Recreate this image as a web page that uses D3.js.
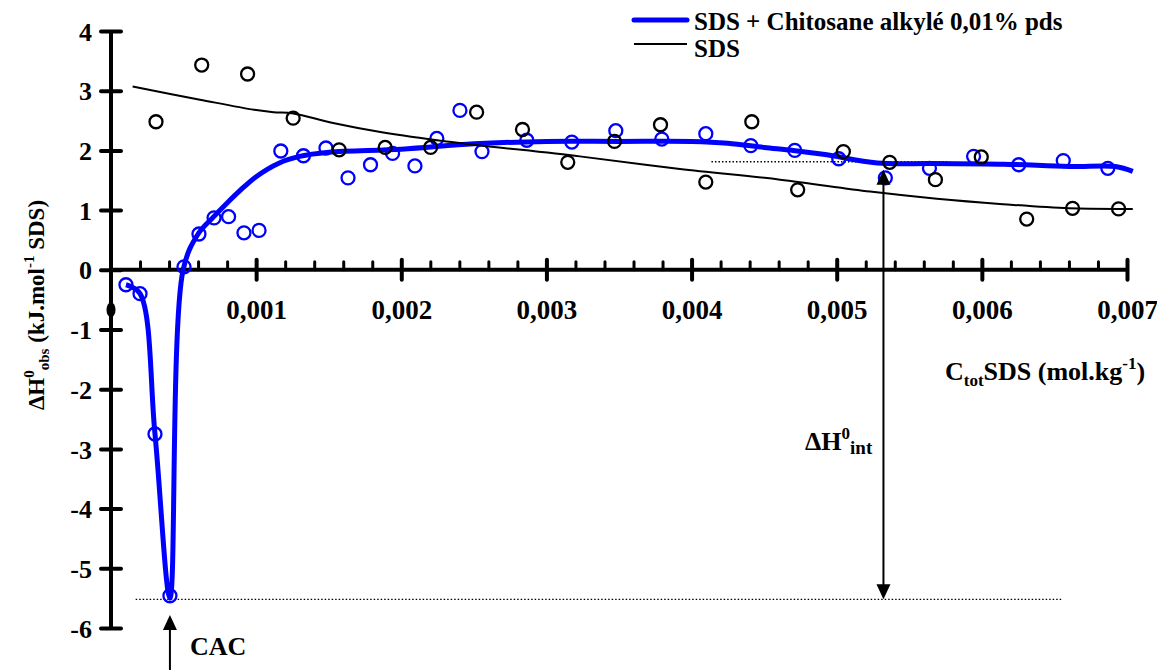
<!DOCTYPE html>
<html><head><meta charset="utf-8">
<script src="https://cdn.jsdelivr.net/npm/d3@7"></script>
<style>
html,body{margin:0;padding:0;background:#fff;}
svg text{font-family:"Liberation Serif","DejaVu Serif","Noto Serif",serif;font-weight:bold;fill:#000;}
</style></head>
<body><svg id="c" width="1157" height="670"></svg>
<script>
// ---- data ----
const blueX = [0.000103,0.000200,0.000303,0.000406,0.000503,0.000606,0.000710,0.000810,0.000916,0.001020,0.001170,0.001326,0.001481,0.001633,0.001788,0.001940,0.002094,0.002245,0.002404,0.002556,0.002865,0.003175,0.003478,0.003795,0.004098,0.004408,0.004711,0.005014,0.005335,0.005639,0.005943,0.006254,0.006561,0.006868];
const blueY = [-0.25,-0.40,-2.75,-5.46,0.05,0.60,0.87,0.89,0.62,0.66,1.99,1.91,2.04,1.54,1.76,1.95,1.74,2.20,2.67,1.98,2.17,2.14,2.33,2.19,2.28,2.08,2.00,1.86,1.54,1.70,1.90,1.76,1.83,1.70];
const blackX = [0.000310,0.000625,0.000941,0.001255,0.001572,0.001889,0.002202,0.002519,0.002835,0.003147,0.003469,0.003786,0.004098,0.004415,0.004731,0.005046,0.005365,0.005680,0.005996,0.006309,0.006625,0.006942];
const blackY = [2.48,3.43,3.28,2.54,2.01,2.05,2.05,2.64,2.35,1.80,2.15,2.43,1.47,2.48,1.34,1.98,1.80,1.51,1.89,0.85,1.03,1.02];
// fitted curves
const blueFitX = [0.000103,0.000200,0.000303,0.000406,0.000497,0.000600,0.000700,0.000800,0.000890,0.001000,0.001160,0.001300,0.001500,0.002000,0.002500,0.003000,0.003500,0.004000,0.004250,0.004500,0.004700,0.004920,0.005280,0.005650,0.006150,0.006600,0.006920,0.007040];
const blueFitY = [-0.25,-0.40,-2.75,-5.50,0.00,0.60,0.87,1.12,1.33,1.56,1.79,1.90,1.97,2.02,2.11,2.15,2.15,2.15,2.12,2.05,2.00,1.93,1.79,1.78,1.77,1.73,1.73,1.65];
const blackFitX = [0.000149,0.000613,0.000987,0.001120,0.001256,0.001530,0.001876,0.002312,0.003230,0.003920,0.004610,0.005230,0.005690,0.006145,0.006600,0.007040];
const blackFitY = [3.07,2.85,2.68,2.64,2.62,2.46,2.30,2.15,1.90,1.69,1.51,1.31,1.19,1.10,1.03,1.02];
const xMajor = [0.001,0.002,0.003,0.004,0.005,0.006,0.007];
const xMajorLabels = ["0,001","0,002","0,003","0,004","0,005","0,006","0,007"];
const yTicks = [-6,-5,-4,-3,-2,-1,0,1,2,3,4];
const yTickLabels = ["-6","-5","-4","-3","-2","-1","0","1","2","3","4"];
const cacLevel = -5.52;   // dotted reference line at minimum
const plateauLevel = 1.81; // dotted plateau line
const arrowX = 0.005322;
const cacX = 0.000406;
const legendLabels = ["SDS + Chitosane alkylé 0,01% pds","SDS"];

// ---- scales ----
const FONT = "'Liberation Serif','DejaVu Serif','Noto Serif',serif";
const svg = d3.select("#c");
const x = d3.scaleLinear().domain([0,0.007]).range([111,1127]);
const y = d3.scaleLinear().domain([-6,4]).range([628,31]);
const BLUE = "#0000ff";

// ---- axes ----
const y0 = y(0);
const xMinor = d3.range(1,36).map(i=>i*0.0002).filter(v=>Math.abs(v/0.001-Math.round(v/0.001))>1e-6);
const gMinor = svg.append("g").attr("transform",`translate(0,${y0})`)
  .call(d3.axisTop(x).tickValues(xMinor).tickSize(8).tickFormat(""));
gMinor.select(".domain").remove();
gMinor.selectAll("line").attr("stroke","#000").attr("stroke-width",3).attr("stroke-linecap","round");

const gx = svg.append("g").attr("transform",`translate(0,${y0})`)
  .call(d3.axisBottom(x).tickValues(xMajor).tickFormat((d,i)=>xMajorLabels[i]).tickSizeOuter(0));
gx.attr("font-family",FONT);
gx.select(".domain").attr("stroke","#000").attr("stroke-width",4).attr("d",`M${x(0)},0H${x(0.007)}`);
gx.selectAll(".tick line").attr("y1",-10).attr("y2",10).attr("stroke","#000").attr("stroke-width",4).attr("stroke-linecap","round");
gx.selectAll(".tick text").attr("y",49).attr("dy",0).attr("font-size",27).attr("fill","#000")
  .style("font-family",FONT).style("font-weight","bold");

const gy = svg.append("g").attr("transform",`translate(${x(0)},0)`)
  .call(d3.axisLeft(y).tickValues(yTicks).tickFormat((d,i)=>yTickLabels[i]).tickSizeOuter(0));
gy.attr("font-family",FONT);
gy.select(".domain").attr("stroke","#000").attr("stroke-width",4).attr("d",`M0,${y(4)}V${y(-6)}`);
gy.selectAll(".tick line").attr("x1",-10).attr("x2",10).attr("stroke","#000").attr("stroke-width",4).attr("stroke-linecap","round");
gy.selectAll(".tick text").attr("x",-19).attr("dy","0.35em").attr("font-size",26).attr("fill","#000")
  .style("font-family",FONT).style("font-weight","bold");

// black blob on y axis
svg.append("ellipse").attr("cx",x(0)).attr("cy",y(-0.67)).attr("rx",4.5).attr("ry",7.5).attr("fill","#000");

// ---- dotted reference lines ----
svg.append("line").attr("x1",x(0.000170)).attr("x2",x(0.006550)).attr("y1",y(cacLevel)).attr("y2",y(cacLevel))
  .attr("stroke","#000").attr("stroke-width",1.3).attr("stroke-dasharray","1.5,2");
svg.append("line").attr("x1",x(0.004137)).attr("x2",x(0.005780)).attr("y1",y(plateauLevel)).attr("y2",y(plateauLevel))
  .attr("stroke","#000").attr("stroke-width",1.3).attr("stroke-dasharray","1.5,2");

// ---- curves ----
const line = d3.line().x(d=>x(d[0])).y(d=>y(d[1])).curve(d3.curveCatmullRom.alpha(0.5));
svg.append("path").datum(blueFitX.map((v,i)=>[v,blueFitY[i]])).attr("d",line)
  .attr("fill","none").attr("stroke",BLUE).attr("stroke-width",5).attr("stroke-linejoin","round");
svg.append("g").selectAll("circle").data(blueX.map((v,i)=>[v,blueY[i]])).join("circle")
  .attr("cx",d=>x(d[0])).attr("cy",d=>y(d[1])).attr("r",6.5).attr("fill","none").attr("stroke",BLUE).attr("stroke-width",2.3);
svg.append("path").datum(blackFitX.map((v,i)=>[v,blackFitY[i]])).attr("d",line)
  .attr("fill","none").attr("stroke","#000").attr("stroke-width",2);
svg.append("g").selectAll("circle").data(blackX.map((v,i)=>[v,blackY[i]])).join("circle")
  .attr("cx",d=>x(d[0])).attr("cy",d=>y(d[1])).attr("r",6.5).attr("fill","none").attr("stroke","#000").attr("stroke-width",2.3);

// ---- arrows ----
function arrowHead(px,py,dir){ // dir -1 up, +1 down; (px,py)=tip
  svg.append("path").attr("d",`M${px},${py}L${px-7},${py-dir*15}L${px+7},${py-dir*15}Z`).attr("fill","#000");
}
const ax = x(arrowX);
svg.append("line").attr("x1",ax).attr("x2",ax).attr("y1",y(plateauLevel)+12).attr("y2",y(cacLevel)-12).attr("stroke","#000").attr("stroke-width",2);
arrowHead(ax,y(plateauLevel)+8,-1);
arrowHead(ax,y(cacLevel),1);
const cx = x(cacX);
svg.append("line").attr("x1",cx).attr("x2",cx).attr("y1",628).attr("y2",670).attr("stroke","#000").attr("stroke-width",2);
arrowHead(cx,615,-1);

// ---- annotations ----
svg.append("text").attr("x",190).attr("y",655).attr("font-size",26).text("CAC");
const t1 = svg.append("text").attr("x",805).attr("y",450).attr("font-size",26);
t1.append("tspan").text("ΔH");
t1.append("tspan").attr("dy",-11).attr("font-size",17).text("0");
t1.append("tspan").attr("dy",15).attr("font-size",19).text("int");

// x axis title
const xt = svg.append("text").attr("x",945).attr("y",380).attr("font-size",26);
xt.append("tspan").text("C");
xt.append("tspan").attr("dy",6).attr("font-size",17).text("tot");
xt.append("tspan").attr("dy",-6).text("SDS (mol.kg");
xt.append("tspan").attr("dy",-11).attr("font-size",17).text("-1");
xt.append("tspan").attr("dy",11).text(")");

// y axis title
const yt = svg.append("text").attr("transform","translate(44,305) rotate(-90)").attr("text-anchor","middle").attr("font-size",23);
yt.append("tspan").text("ΔH");
yt.append("tspan").attr("dy",-10).attr("font-size",15).text("0");
yt.append("tspan").attr("dy",15).attr("font-size",15).text("obs");
yt.append("tspan").attr("dy",-5).text(" (kJ.mol");
yt.append("tspan").attr("dy",-10).attr("font-size",15).text("-1");
yt.append("tspan").attr("dy",10).text(" SDS)");

// ---- legend ----
svg.append("line").attr("x1",634).attr("x2",687).attr("y1",20).attr("y2",20).attr("stroke",BLUE).attr("stroke-width",5).attr("stroke-linecap","round");
svg.append("line").attr("x1",634).attr("x2",687).attr("y1",44).attr("y2",44).attr("stroke","#000").attr("stroke-width",2);
svg.append("text").attr("x",694).attr("y",30).attr("font-size",25).text(legendLabels[0]);
svg.append("text").attr("x",694).attr("y",57).attr("font-size",25).text(legendLabels[1]);
</script></body></html>
